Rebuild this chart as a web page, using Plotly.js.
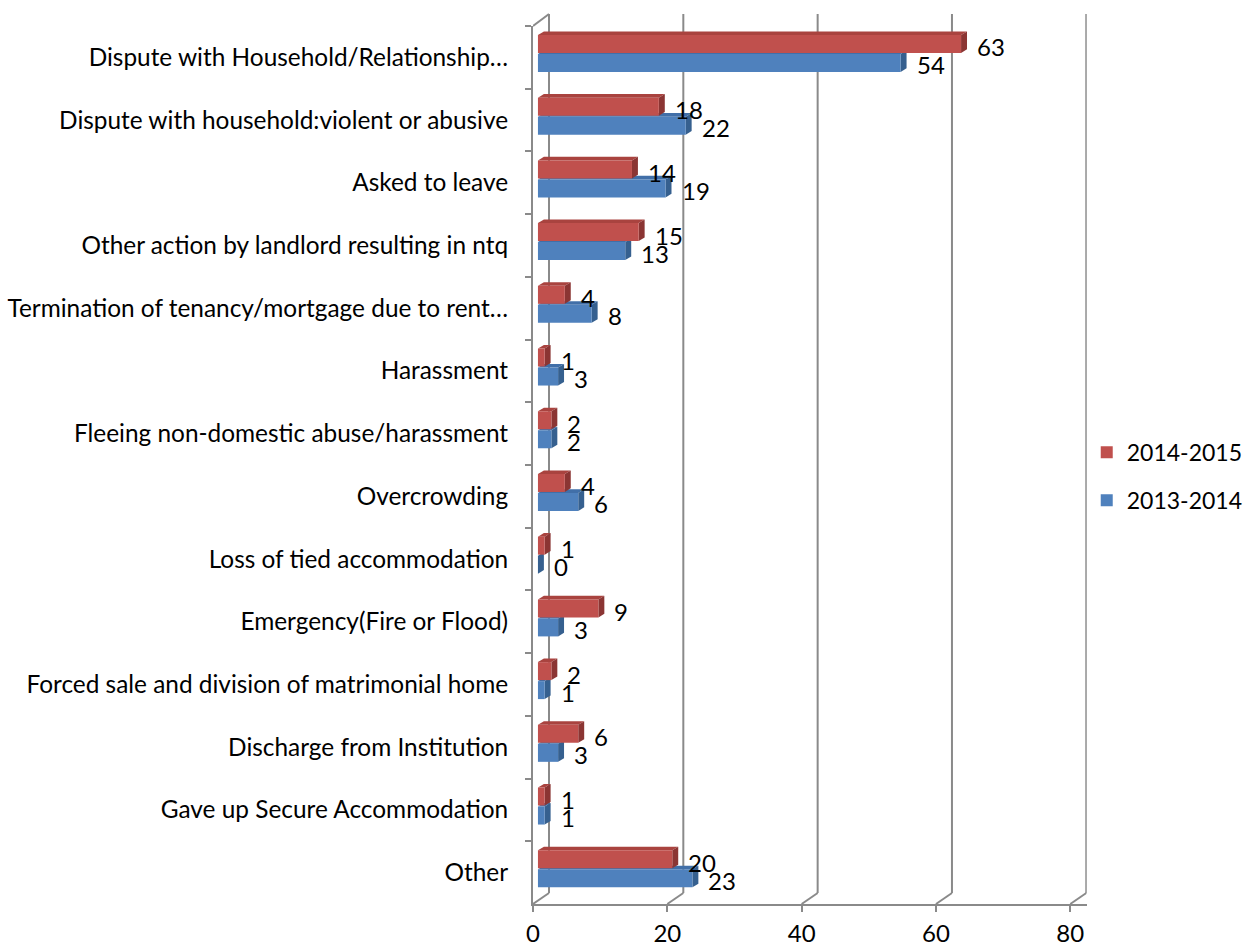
<!DOCTYPE html>
<html>
<head>
<meta charset="utf-8">
<script src="https://cdn.plot.ly/plotly-3.0.1.min.js"></script>
<style>html,body{margin:0;padding:0;background:#fff}#chart{width:1252px;height:947px}</style>
</head>
<body>
<div id="chart"></div>
<script>
// ---------- data ----------
const categories = [
  "Dispute with Household/Relationship…",
  "Dispute with household:violent or abusive",
  "Asked to leave",
  "Other action by landlord resulting in ntq",
  "Termination of tenancy/mortgage due to rent…",
  "Harassment",
  "Fleeing non-domestic abuse/harassment",
  "Overcrowding",
  "Loss of tied accommodation",
  "Emergency(Fire or Flood)",
  "Forced sale and division of matrimonial home",
  "Discharge from Institution",
  "Gave up Secure Accommodation",
  "Other"
];
const values2014_2015 = [63, 18, 14, 15, 4, 1, 2, 4, 1, 9, 2, 6, 1, 20];
const values2013_2014 = [54, 22, 19, 13, 8, 3, 2, 6, 0, 3, 1, 3, 1, 23];
const xTickValues = [0, 20, 40, 60, 80];
const seriesNames = ["2014-2015", "2013-2014"];

// ---------- style ----------
const FONT = "Lato, 'Open Sans', sans-serif";
const FS_CAT = 24.4, FS_NUM = 24, FS_LEG = 23;
const GRID = "#8a8a8a";
const PXU = 6.78;              // pixels per unit
const faceColors = {
  red:  {front: "#C0504D", top: "#A9433F", side: "#8B3533"},
  blue: {front: "#4F81BD", top: "#416FA8", side: "#36608F"}
};
const DX = 6 / PXU;            // depth in data units
const DY = 3.6;                // depth in pixels
const barW = 0.287;
const redOff = -0.357, blueOff = -0.054;
const catPx = 62.7;

const traces = [
  {type: "bar", orientation: "h", name: seriesNames[0], legendgroup: "a",
   x: values2014_2015, y: categories, offset: redOff, width: barW,
   marker: {color: faceColors.red.front}, hoverinfo: "skip"},
  {type: "bar", orientation: "h", name: seriesNames[1], legendgroup: "b",
   x: values2013_2014, y: categories, offset: blueOff, width: barW,
   marker: {color: faceColors.blue.front}, hoverinfo: "skip"},
  {type: "scatter", x: [], y: [], xaxis: "x2", showlegend: false, hoverinfo: "skip"}
];

// shapes: back wall gridlines and floor diagonals
const shapes = [];
xTickValues.forEach(t => {
  shapes.push({type: "line", layer: "below", xref: "x2", xsizemode: "pixel", xanchor: t, x0: 16, x1: 16,
    yref: "paper", ysizemode: "pixel", yanchor: 0, y0: 11, y1: 890, line: {color: GRID, width: 2}});
  shapes.push({type: "line", layer: "below", xref: "x2", xsizemode: "pixel", xanchor: t, x0: 0, x1: 16,
    yref: "paper", ysizemode: "pixel", yanchor: 0, y0: 0, y1: 11, line: {color: GRID, width: 2}});
});
shapes.push({type: "line", layer: "below", xref: "x2", xsizemode: "pixel", xanchor: 0, x0: 0, x1: 16,
  yref: "paper", ysizemode: "pixel", yanchor: 1, y0: 0, y1: 12, line: {color: GRID, width: 2}});

// 3D faces derived from the data values
function faces(vals, off, col) {
  const yTop = -off * catPx;
  const yBot = -(off + barW) * catPx;
  vals.forEach((v, i) => {
    shapes.push({type: "path", layer: "below", xref: "x", yref: "y", ysizemode: "pixel", yanchor: categories[i],
      path: `M0,${yTop} L${v},${yTop} L${v + DX},${yTop + DY} L${DX},${yTop + DY} Z`,
      fillcolor: col.top, line: {width: 0}});
    shapes.push({type: "path", layer: "below", xref: "x", yref: "y", ysizemode: "pixel", yanchor: categories[i],
      path: `M${v},${yTop} L${v + DX},${yTop + DY} L${v + DX},${yBot + DY} L${v},${yBot} Z`,
      fillcolor: col.side, line: {width: 0}});
  });
}
faces(values2013_2014, blueOff, faceColors.blue);
faces(values2014_2015, redOff, faceColors.red);

// data labels
const annotations = [];
categories.forEach((c, i) => {
  annotations.push({xref: "x", yref: "y", x: values2014_2015[i], y: c, text: String(values2014_2015[i]),
    showarrow: false, xanchor: "left", xshift: 14, yshift: 10.5, font: {family: FONT, size: FS_NUM, color: "#000"}});
  annotations.push({xref: "x", yref: "y", x: values2013_2014[i], y: c, text: String(values2013_2014[i]),
    showarrow: false, xanchor: "left", xshift: 14, yshift: -7.5, font: {family: FONT, size: FS_NUM, color: "#000"}});
});

const layout = {
  width: 1252, height: 947, autosize: false,
  margin: {l: 533, r: 160, t: 26, b: 43, pad: 0},
  paper_bgcolor: "#fff", plot_bgcolor: "rgba(0,0,0,0)",
  font: {family: FONT, size: FS_CAT, color: "#000"},
  barmode: "overlay",
  showlegend: true,
  legend: {xref: "container", yref: "container", x: 0.868, y: 0.497, xanchor: "left", yanchor: "middle",
    traceorder: "grouped", tracegroupgap: 15, font: {family: FONT, size: FS_LEG, color: "#000"},
    bgcolor: "rgba(0,0,0,0)"},
  xaxis: {range: [-5 / PXU, 554 / PXU], showgrid: false, zeroline: false, showticklabels: false,
    ticks: "", showline: true, linecolor: GRID, linewidth: 2, fixedrange: true},
  xaxis2: {overlaying: "x", side: "bottom", range: [0, 559 / PXU], tickmode: "array", tickvals: xTickValues,
    ticks: "outside", ticklen: 7, tickwidth: 2, tickcolor: GRID, showgrid: false, zeroline: false,
    showline: false, ticklabelstandoff: 1, tickfont: {family: FONT, size: FS_NUM, color: "#000"}, fixedrange: true},
  yaxis: {type: "category", categoryorder: "array", categoryarray: categories,
    range: [categories.length - 0.5, -0.5], showgrid: false, zeroline: false,
    showline: true, linecolor: GRID, linewidth: 2, ticks: "outside", tickson: "boundaries",
    ticklen: 6, tickwidth: 2, tickcolor: GRID, ticklabelstandoff: 18,
    tickfont: {family: FONT, size: FS_CAT, color: "#000"}, fixedrange: true},
  shapes: shapes,
  annotations: annotations,
  hovermode: false
};

Plotly.newPlot("chart", traces, layout, {displayModeBar: false, staticPlot: true});
</script>
</body>
</html>
